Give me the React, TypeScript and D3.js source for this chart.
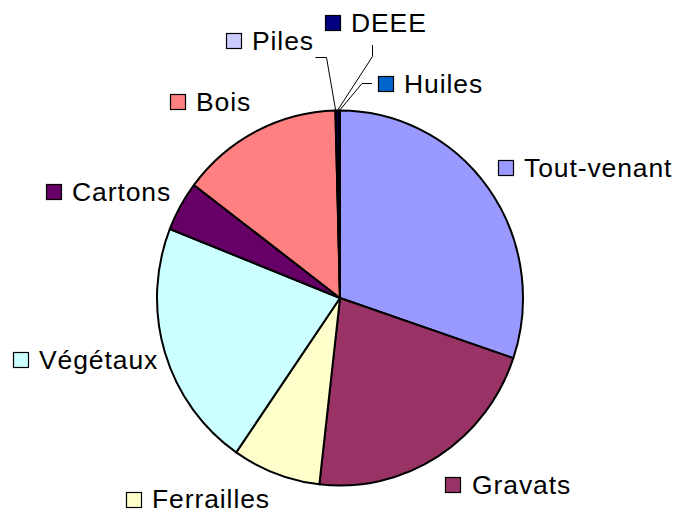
import React from 'react';
import * as d3 from 'd3';

const categories = ['Tout-venant', 'Gravats', 'Ferrailles', 'Végétaux', 'Cartons', 'Bois', 'Piles', 'DEEE', 'Huiles'];
const shares = [30.2, 21.6, 7.8, 21.4, 4.3, 14.3, 0.05, 0.25, 0.1];
const colors = ['#9999FF', '#993366', '#FFFFCC', '#CCFFFF', '#660066', '#FF8080', '#CCCCFF', '#000080', '#0066CC'];

// legend box / text placement, per slice (layout only)
const labelLayout = [
  { sx: 498, sy: 160, tx: 524, ty: 177 },
  { sx: 445, sy: 477, tx: 472, ty: 494 },
  { sx: 126, sy: 492, tx: 152, ty: 508 },
  { sx: 13, sy: 352, tx: 39, ty: 369 },
  { sx: 46, sy: 184, tx: 72, ty: 201 },
  { sx: 170, sy: 94, tx: 196, ty: 111 },
  { sx: 226, sy: 33, tx: 252, ty: 50 },
  { sx: 325, sy: 15, tx: 351, ty: 32 },
  { sx: 378, sy: 76, tx: 404, ty: 93 },
];

// leader lines for the tiny slices: [start, elbow]
const leaders: Record<number, [number, number][]> = {
  6: [[315.5, 57.5], [326.5, 57.5]],
  7: [[372.5, 45], [372.5, 56.5]],
  8: [[372, 83.5], [362, 83.5]],
};

const width = 677;
const height = 512;
const cx = 340;
const cy = 298;
const rx = 183;
const ry = 187.5;

const App: React.FC = () => {
  const pie = d3.pie<number>().sort(null).value(d => d)(shares);
  const arc = d3.arc<d3.PieArcDatum<number>>().innerRadius(0).outerRadius(rx);

  const edgePoint = (a: d3.PieArcDatum<number>) => {
    const m = (a.startAngle + a.endAngle) / 2;
    return [cx + Math.sin(m) * rx, cy - Math.cos(m) * ry];
  };

  return (
    <svg width={width} height={height} style={{ position: 'absolute', left: 0, top: 0 }}
      fontFamily="'Liberation Sans', Arial, sans-serif">
      <rect width={width} height={height} fill="white" />
      <g transform={`translate(${cx},${cy}) scale(1,${ry / rx})`}>
        {pie.map((a, i) => (
          <path key={i} d={arc(a) || ''} fill={colors[i]} stroke="black" strokeWidth={2} strokeLinejoin="round" />
        ))}
      </g>
      {pie.map((a, i) => {
        const l = leaders[i];
        if (!l) return null;
        const [ex, ey] = edgePoint(a);
        const pts = [...l, [ex, ey]];
        return (
          <path key={`ld-${i}`} d={d3.line()(pts as [number, number][]) || ''} fill="none" stroke="black" strokeWidth={1} />
        );
      })}
      {categories.map((c, i) => {
        const p = labelLayout[i];
        return (
          <g key={c}>
            <rect x={p.sx + 0.5} y={p.sy + 0.5} width={15} height={15} fill={colors[i]} stroke="black" strokeWidth={1.2} />
            <text x={p.tx} y={p.ty} fontSize={26.5} letterSpacing={0.9} fill="black">{c}</text>
          </g>
        );
      })}
    </svg>
  );
};

export default App;
